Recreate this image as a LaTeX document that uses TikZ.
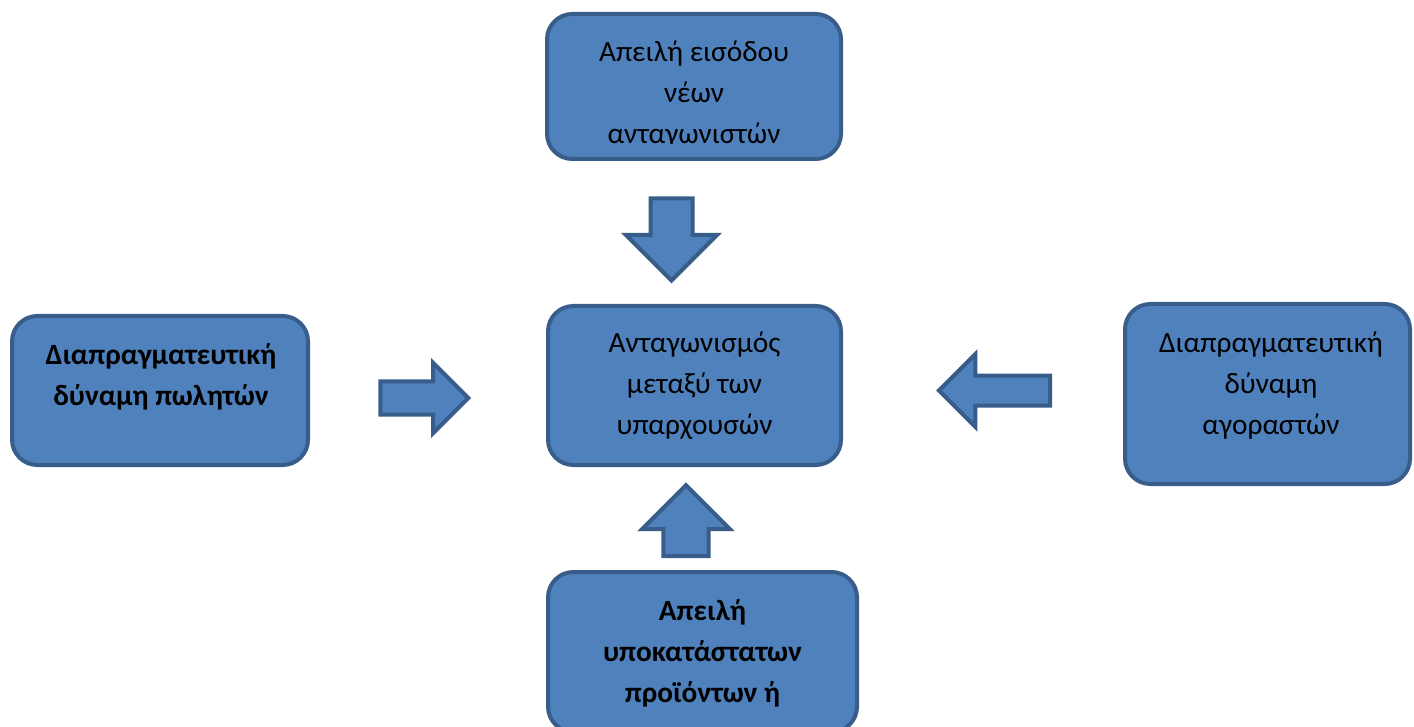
\documentclass[tikz,border=0pt]{standalone}
\usepackage{fontspec}
\setmainfont{Carlito}
\usetikzlibrary{shapes.arrows, positioning}

\definecolor{boxblue}{HTML}{4F81BD}
\definecolor{edgeblue}{HTML}{385D8A}

\begin{document}
\begin{tikzpicture}[
    x=0.75pt, y=-0.75pt,
    box/.style = {
        rectangle,
        rounded corners=19pt,
        draw=edgeblue,
        fill=boxblue,
        line width=3pt,
        inner sep=0pt
    },
    txt/.style = {
        align=center,
        inner sep=0pt,
        font=\fontsize{22}{30.75}\selectfont
    },
    boldtxt/.style = {txt, font=\fontsize{22}{30.75}\selectfont\bfseries},
    blockarrow/.style = {
        single arrow,
        draw=edgeblue,
        fill=boxblue,
        line width=3pt,
        inner xsep=0pt,
        single arrow tip angle=90,
        single arrow head indent=0pt
    }
]
    \useasboundingbox (0,0) rectangle (1414,727);

    % === BOXES ===
    \node[box, minimum width=220.5pt, minimum height=108.75pt] (entry) at (694,86.5) {};
    \begin{scope}
        \clip (entry.north west) rectangle ([yshift=13.1pt]entry.south east);
        \node[txt] (entrytext) at (694,95) {Απειλή εισόδου\\νέων\\ανταγωνιστών};
    \end{scope}

    \node[box, minimum width=219.75pt, minimum height=119.25pt] (rivalry) at (694.5,385.5) {};
    \node[txt] (rivalrytext) at (694.5,386) {Ανταγωνισμός\\μεταξύ των\\υπαρχουσών};

    \node[box, minimum width=222pt, minimum height=111.75pt] (suppliers) at (160,390.5) {};
    \node[boldtxt] (supplierstext) at (161,376.5) {Διαπραγματευτική\\δύναμη πωλητών};

    \node[box, minimum width=213.75pt, minimum height=135pt] (buyers) at (1267.5,394) {};
    \node[txt] (buyerstext) at (1271,386) {Διαπραγματευτική\\δύναμη\\αγοραστών};

    \node[box, minimum width=231.75pt, minimum height=120pt] (substitutes) at (702.5,652) {};
    \node[boldtxt] (substitutestext) at (702.5,653) {Απειλή\\υποκατάστατων\\προϊόντων ή};

    % === BLOCK ARROWS ===
    \node[blockarrow, inner ysep=10.9pt, minimum height=66pt, minimum width=49.5pt,
          single arrow head extend=13.9pt] (fromsuppliers) at (416,398) {};
    \node[blockarrow, rotate=-90, inner ysep=14.25pt, minimum height=61.5pt, minimum width=65.25pt,
          single arrow head extend=18.4pt] (fromentry) at (671.5,229) {};
    \node[blockarrow, rotate=180, inner ysep=9.75pt, minimum height=83.25pt, minimum width=51.75pt,
          single arrow head extend=16.1pt] (frombuyers) at (1002,390.5) {};
    \node[blockarrow, rotate=90, inner ysep=15.4pt, minimum height=53.25pt, minimum width=63pt,
          single arrow head extend=16.1pt] (fromsubstitutes) at (686,532) {};

\end{tikzpicture}
\end{document}
